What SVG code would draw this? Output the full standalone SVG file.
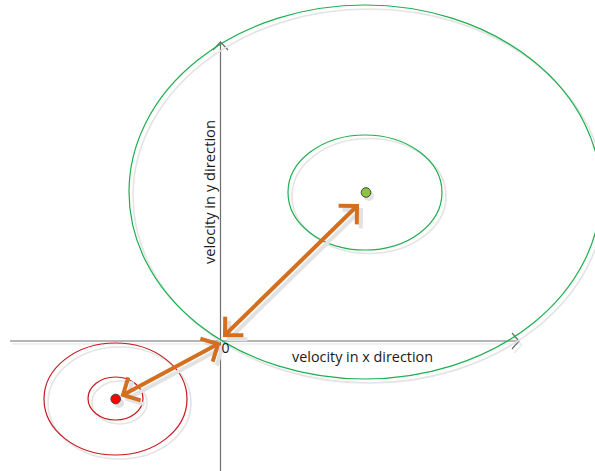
<svg xmlns="http://www.w3.org/2000/svg" width="595" height="471" viewBox="0 0 595 471">
<style>
.sh{fill:none;stroke:#e4e4e4;stroke-width:1.6}
.g{fill:none;stroke:#1daf4f;stroke-width:1.2}
.r{fill:none;stroke:#c8161d;stroke-width:1.2}
.ax{fill:none;stroke:#6e6e6e;stroke-width:1.2}
.axs{fill:none;stroke:#e6e6e6;stroke-width:1.2}
.ar{fill:none;stroke:#d36f1f;stroke-width:4;stroke-linecap:butt}
.ars{fill:none;stroke:#e2e2e2;stroke-width:4}
.t{font-family:"Open Sans","Liberation Sans",sans-serif;font-size:14px;fill:#1a1a1a}
</style>
<defs>
<marker id="oh" markerUnits="userSpaceOnUse" markerWidth="40" markerHeight="40" refX="0" refY="0" viewBox="-20 -20 40 40" orient="auto-start-reverse" overflow="visible">
<path d="M-13,-13 L0,0 L-13,13" fill="none" stroke="#d36f1f" stroke-width="4"/>
</marker>
<marker id="ohs" markerUnits="userSpaceOnUse" markerWidth="40" markerHeight="40" refX="0" refY="0" viewBox="-20 -20 40 40" orient="auto-start-reverse" overflow="visible">
<path d="M-13,-13 L0,0 L-13,13" fill="none" stroke="#e2e2e2" stroke-width="4"/>
</marker>
</defs>
<rect width="595" height="471" fill="#ffffff"/>
<g id="axes">
<path class="axs" d="M12,344 H521 M514,337 L522,345 L514,353"/>
<path class="ax" d="M10,341 H519 M512,333 L519,341 L512,349"/>
<path class="ax" d="M220.5,471 V42 M213,50 L220.5,42 L228,50"/>
</g>
<g id="big-green">
<ellipse class="sh" cx="369" cy="196" rx="236" ry="187"/>
<ellipse class="g" cx="365" cy="192" rx="236" ry="187"/>
</g>
<g id="small-green">
<ellipse class="sh" cx="369" cy="196" rx="77" ry="57.5"/>
<ellipse class="g" cx="365" cy="192.5" rx="77" ry="57.5"/>
</g>
<g id="green-dot">
<circle cx="369" cy="196" r="5" fill="#e4e4e4"/>
<circle cx="366" cy="192.5" r="4.8" fill="#8cc43f" stroke="#444" stroke-width="1"/>
</g>
<g id="big-red">
<ellipse class="sh" cx="119.5" cy="403" rx="71.5" ry="56"/>
<ellipse class="r" cx="115.5" cy="399" rx="71.5" ry="56"/>
</g>
<g id="small-red">
<ellipse class="sh" cx="119.5" cy="402.5" rx="27.5" ry="21.5"/>
<ellipse class="r" cx="115.5" cy="398.5" rx="27.5" ry="21.5"/>
</g>
<g id="red-dot">
<circle cx="119" cy="403" r="5" fill="#e0e0e0"/>
<circle cx="115.7" cy="399" r="4.8" fill="#ff0000" stroke="#444" stroke-width="1"/>
</g>
<g id="connectors">
<line class="ars" x1="229" y1="339" x2="361" y2="210" marker-start="url(#ohs)" marker-end="url(#ohs)"/>
<line class="ar" x1="225" y1="335" x2="357" y2="206" marker-start="url(#oh)" marker-end="url(#oh)"/>
<line class="ars" x1="127" y1="399" x2="222" y2="348" marker-start="url(#ohs)" marker-end="url(#ohs)"/>
<line class="ar" x1="123" y1="395" x2="218" y2="344" marker-start="url(#oh)" marker-end="url(#oh)"/>
</g>
<g id="labels">
<text class="t" x="292" y="362" textLength="141" lengthAdjust="spacingAndGlyphs">velocity in x direction</text>
<text class="t" x="0" y="0" transform="translate(214.5,264) rotate(-90)" textLength="144" lengthAdjust="spacingAndGlyphs">velocity in y direction</text>
<text class="t" x="221.5" y="352.5">0</text>
</g>
</svg>
